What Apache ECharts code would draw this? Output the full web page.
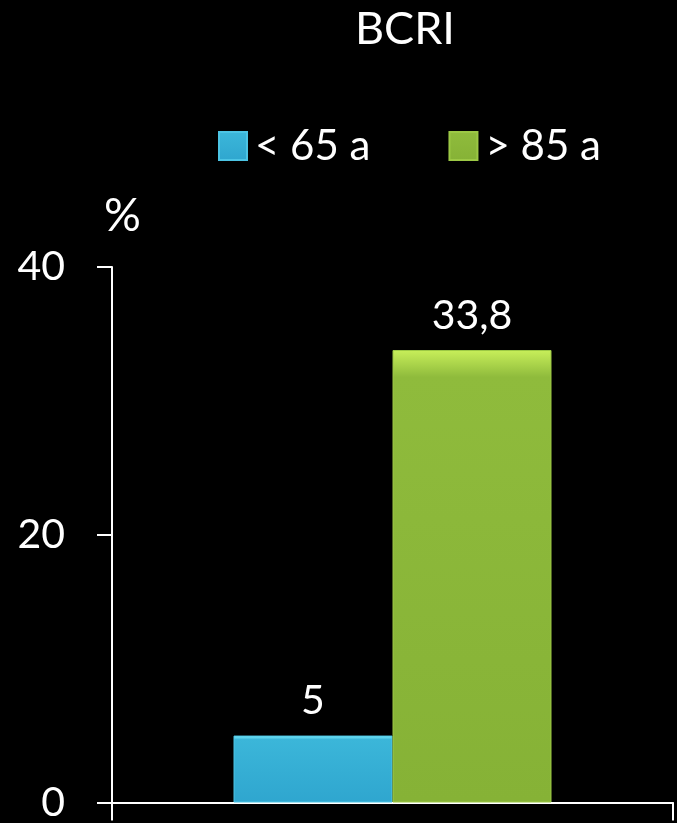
<!DOCTYPE html>
<html><head><meta charset="utf-8">
<script src="https://cdn.jsdelivr.net/npm/echarts@6/dist/echarts.min.js"></script>
<style>html,body{margin:0;padding:0;background:#000;}#c{width:677px;height:823px;}</style>
</head><body><div id="c"></div>
<script>
const categories = [''];
const seriesNames = ['< 65 a', '> 85 a'];
const youngValues = [5];
const oldValues = [33.8];
const yTicks = [0, 20, 40];

const chart = echarts.init(document.getElementById('c'));
const F = 'Lato, "Open Sans", sans-serif';
function grad(top, mid, bot) {
  return new echarts.graphic.LinearGradient(0, 0, 0, 1, [
    {offset: 0, color: top}, {offset: 0.06, color: mid}, {offset: 1, color: bot}
  ]);
}
chart.setOption({
  backgroundColor: '#000',
  animation: false,
  textStyle: {fontFamily: F},
  title: {
    text: 'BCRI', left: 400, top: 2, textAlign: 'center',
    textStyle: {color: '#fff', fontSize: 45, fontWeight: 'normal', fontFamily: F}
  },
  legend: {
    left: 213, top: 120, itemWidth: 28, itemHeight: 28, itemGap: 78,
    icon: 'rect',
    textStyle: {color: '#fff', fontSize: 42, fontFamily: F, padding: [0, 0, 0, 3]},
    data: seriesNames
  },
  grid: {left: 112, right: 4, top: 267, bottom: 18, containLabel: false},
  xAxis: {
    type: 'category', data: categories, boundaryGap: true,
    axisLine: {lineStyle: {color: '#fff', width: 2}},
    axisTick: {show: true, length: 18, lineStyle: {color: '#fff', width: 2}},
    axisLabel: {show: false}
  },
  yAxis: {
    type: 'value', min: yTicks[0], max: yTicks[yTicks.length - 1], interval: 20,
    name: '%', nameLocation: 'end', nameGap: 28,
    nameTextStyle: {color: '#fff', fontSize: 46, fontFamily: F, align: 'left', padding: [0, 0, 0, -8]},
    axisLine: {show: true, lineStyle: {color: '#fff', width: 2}},
    axisTick: {show: true, length: 15, lineStyle: {color: '#fff', width: 2}},
    axisLabel: {color: '#fff', fontSize: 41, margin: 47, fontFamily: F},
    splitLine: {show: false}
  },
  series: [
    {
      name: seriesNames[0], type: 'bar', data: youngValues, barWidth: 159, barGap: '0%',
      itemStyle: {color: grad('#7ff0ff', '#3bb6d9', '#2fa6cf'), borderColor: '#4cc4e4', borderWidth: 1},
      label: {show: true, position: 'top', distance: 14, color: '#fff', fontSize: 41, fontFamily: F, formatter: p => String(p.value).replace('.', ',')}
    },
    {
      name: seriesNames[1], type: 'bar', data: oldValues, barWidth: 159, barGap: '0%',
      itemStyle: {color: grad('#c8ef5a', '#8fbb3c', '#86b236'), borderColor: '#9cc845', borderWidth: 1},
      label: {show: true, position: 'top', distance: 14, color: '#fff', fontSize: 41, fontFamily: F, formatter: p => String(p.value).replace('.', ',')}
    }
  ]
});
</script></body></html>
